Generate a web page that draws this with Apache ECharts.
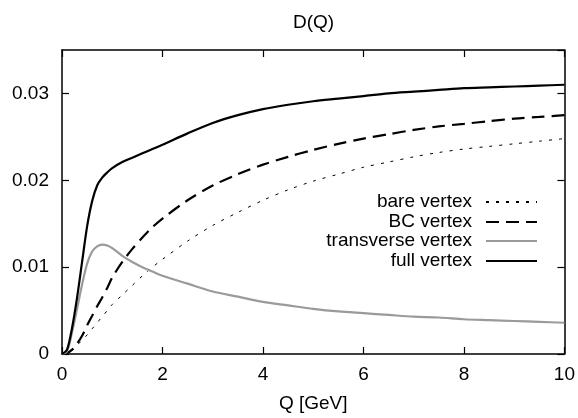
<!DOCTYPE html>
<html>
<head>
<meta charset="UTF-8">
<title>D(Q)</title>
<script src="https://cdn.jsdelivr.net/npm/echarts@6/dist/echarts.min.js"></script>
<style>
body { margin: 0; padding: 0; background: #fff; }
#main { width: 578px; height: 418px; }
</style>
</head>
<body>
<div id="main"></div>
<script>
// Q grid (GeV) shared by all curves
var qValues = [0, 0.1, 0.2, 0.3, 0.4, 0.5, 0.6, 0.7, 0.8, 0.9, 1.0, 1.2, 1.4, 1.6, 1.8, 2.0,
               2.5, 3.0, 3.5, 4.0, 4.5, 5.0, 5.5, 6.0, 6.5, 7.0, 7.5, 8.0, 8.5, 9.0, 9.5, 10];

var bareVertex = [0, 0.0001, 0.0004, 0.0010, 0.0016, 0.0022, 0.0029, 0.0036, 0.0043, 0.0050, 0.0057, 0.0068, 0.0079, 0.0090, 0.0100, 0.0109,
                  0.0130, 0.0148, 0.0163, 0.0177, 0.0189, 0.0199, 0.0207, 0.0215, 0.0221, 0.0227, 0.0232, 0.0236, 0.0239, 0.0242, 0.0245, 0.0248];

var bcVertex = [0, 0.0001, 0.0005, 0.0012, 0.0021, 0.0033, 0.0044, 0.0055, 0.0065, 0.0076, 0.0088, 0.0106, 0.0121, 0.0134, 0.0146, 0.0156,
                0.0177, 0.0194, 0.0207, 0.0218, 0.0227, 0.0235, 0.0242, 0.0248, 0.0253, 0.0258, 0.0262, 0.0265, 0.0268, 0.0271, 0.0273, 0.0275];

var transverseVertex = [0, 0.0003, 0.0025, 0.0052, 0.0080, 0.0104, 0.0118, 0.0124, 0.0126, 0.0125, 0.0122, 0.0113, 0.0106, 0.0100, 0.0095, 0.0090,
                        0.0081, 0.0072, 0.0066, 0.0060, 0.0056, 0.0052, 0.0049, 0.0047, 0.0045, 0.0043, 0.0042, 0.0040, 0.0039, 0.0038, 0.0037, 0.0036];

var fullVertex = [0, 0.0005, 0.0030, 0.0065, 0.0106, 0.0147, 0.0176, 0.0194, 0.0203, 0.0209, 0.0214, 0.0221, 0.0226, 0.0231, 0.0236, 0.0241,
                  0.0254, 0.0266, 0.0275, 0.0282, 0.0287, 0.0291, 0.0294, 0.0297, 0.0300, 0.0302, 0.0304, 0.0306, 0.0307, 0.0308, 0.0309, 0.0310];

var seriesNames = ['bare vertex', 'BC vertex', 'transverse vertex', 'full vertex'];

function pairs(ys) {
    return qValues.map(function (q, i) { return [q, ys[i]]; });
}

var FONT = 'Liberation Sans, Arial, Helvetica, sans-serif';
var myChart = echarts.init(document.getElementById('main'));

function legendRow(name, top) {
    return {
        data: [name],
        right: 40,
        top: top,
        padding: 0,
        align: 'right',
        itemWidth: 51,
        itemHeight: 12,
        selectedMode: false,
        itemStyle: { opacity: 0 },   // hide the circle, keep the line sample
        textStyle: { color: '#000', fontSize: 19, fontFamily: FONT, lineHeight: 20, padding: [0, 9, 0, 0] }
    };
}

var axisCommon = {
    axisLine: { show: true, onZero: false, lineStyle: { color: '#000', width: 1.5 } },
    axisTick: { show: true, inside: true, length: 7, lineStyle: { color: '#000', width: 1.2 } },
    splitLine: { show: false }
};

option = {
    animation: false,
    backgroundColor: '#fff',
    title: {
        text: 'D(Q)',
        left: 293,
        top: 13,
        padding: 0,
        textStyle: { color: '#000', fontSize: 19, fontWeight: 'normal', fontFamily: FONT }
    },
    legend: [
        legendRow(seriesNames[0], 192),
        legendRow(seriesNames[1], 212),
        legendRow(seriesNames[2], 231),
        legendRow(seriesNames[3], 251)
    ],
    grid: { left: 62, right: 12, top: 50, bottom: 60 },
    xAxis: [
        Object.assign({
            type: 'value', min: 0, max: 10, interval: 2, position: 'bottom',
            name: 'Q [GeV]', nameLocation: 'middle', nameGap: 40,
            nameTextStyle: { color: '#000', fontSize: 19, fontFamily: FONT },
            axisLabel: { color: '#000', fontSize: 19, fontFamily: FONT, margin: 11 }
        }, axisCommon),
        Object.assign({
            type: 'value', min: 0, max: 10, interval: 2, position: 'top',
            axisLabel: { show: false }
        }, axisCommon)
    ],
    yAxis: [
        Object.assign({
            type: 'value', min: 0, max: 0.035, interval: 0.01, position: 'left',
            axisLabel: { color: '#000', fontSize: 19, fontFamily: FONT, margin: 13, showMaxLabel: false }
        }, axisCommon),
        Object.assign({
            type: 'value', min: 0, max: 0.035, interval: 0.01, position: 'right',
            axisLabel: { show: false }
        }, axisCommon)
    ],
    series: [
        {
            name: seriesNames[0], type: 'line', data: pairs(bareVertex), symbol: 'none', smooth: 0.3,
            lineStyle: { color: '#000', width: 1, type: [3, 7] }, itemStyle: { color: '#000' }
        },
        {
            name: seriesNames[1], type: 'line', data: pairs(bcVertex), symbol: 'none', smooth: 0.3,
            lineStyle: { color: '#000', width: 2.2, type: [13, 7] }, itemStyle: { color: '#000' }
        },
        {
            name: seriesNames[2], type: 'line', data: pairs(transverseVertex), symbol: 'none', smooth: 0.3,
            lineStyle: { color: '#9a9a9a', width: 2.2 }, itemStyle: { color: '#9a9a9a' }
        },
        {
            name: seriesNames[3], type: 'line', data: pairs(fullVertex), symbol: 'none', smooth: 0.3,
            lineStyle: { color: '#000', width: 2.2 }, itemStyle: { color: '#000' }
        }
    ]
};
myChart.setOption(option);
</script>
</body>
</html>
